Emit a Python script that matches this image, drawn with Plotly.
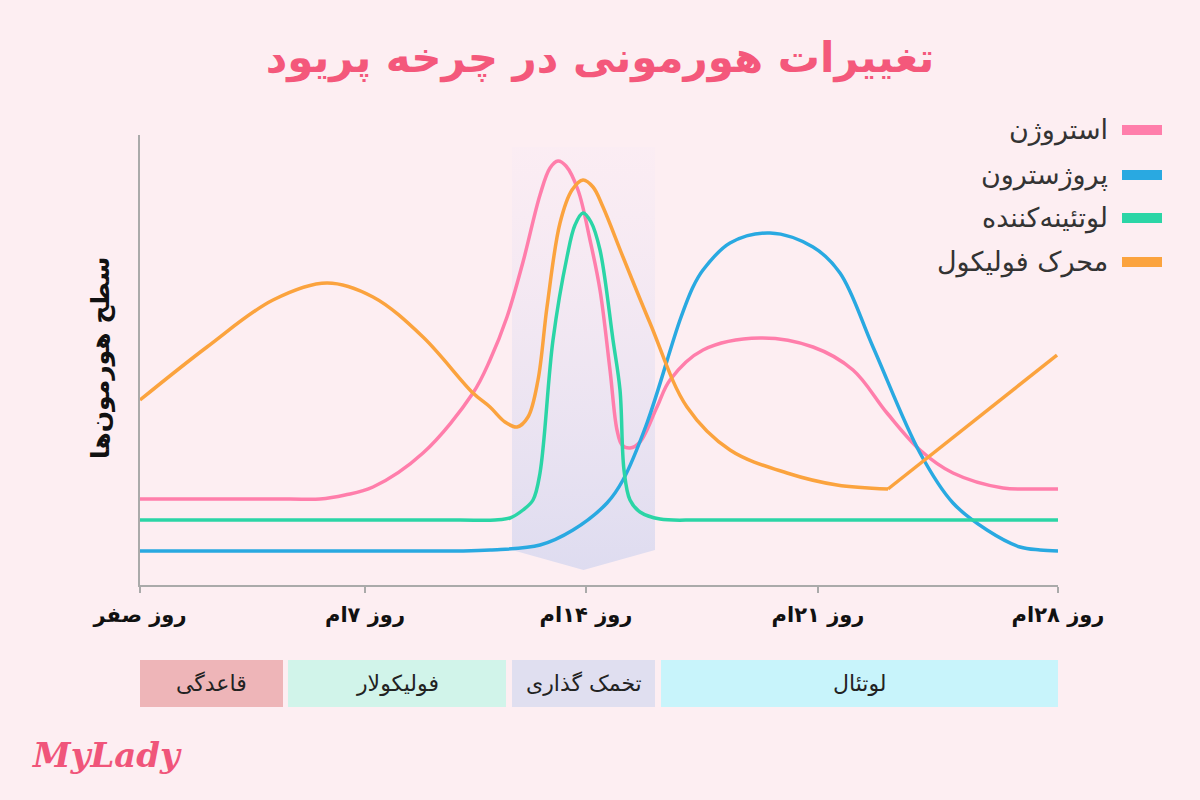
import plotly.graph_objects as go

# ---------------- data (x: position along the cycle axis, y: hormone level) ----------------
estrogen_x = [0, 90, 150, 180, 205, 233, 283, 333, 350, 367, 383, 400, 410, 418, 426, 438, 450, 460, 470, 477, 482, 490, 500, 517, 530, 563, 620, 673, 713, 747, 780, 813, 863, 895, 918]
estrogen_y = [86, 86, 86, 86, 90, 98, 132, 192, 225, 268, 323, 390, 417, 424, 419, 395, 345, 295, 215, 155, 140, 137, 143, 178, 205, 235, 247, 238, 215, 172, 135, 112, 97, 96, 96]

progesterone_x = [0, 150, 250, 320, 350, 400, 433, 467, 483, 507, 540, 553, 563, 590, 630, 673, 700, 733, 780, 813, 847, 880, 900, 918]
progesterone_y = [34, 34, 34, 34, 35, 40, 55, 82, 105, 162, 265, 298, 315, 342, 352, 338, 312, 238, 132, 82, 55, 38, 35, 34]

lh_x = [0, 250, 320, 355, 370, 383, 393, 400, 413, 427, 435, 443, 451, 460, 473, 480, 484, 490, 500, 520, 560, 650, 918]
lh_y = [65, 65, 65, 65, 67, 75, 85, 112, 245, 328, 360, 372, 363, 335, 245, 195, 115, 85, 73, 66, 65, 65, 65]

fsh_x = [0, 67, 133, 187, 233, 283, 333, 350, 365, 377, 388, 398, 407, 420, 432, 443, 453, 463, 483, 510, 547, 590, 647, 697, 748]
fsh_y = [185, 238, 285, 302, 288, 248, 192, 178, 163, 158, 168, 205, 278, 362, 395, 405, 398, 378, 328, 262, 178, 135, 112, 100, 96]
fsh_tail_x = [748, 917]
fsh_tail_y = [96, 230]

hormone_names = ["استروژن", "پروژسترون", "لوتئینه‌کننده", "محرک فولیکول"]
hormone_colors = ["#ff7eab", "#29a9e1", "#2bd5a6", "#fba33e"]

tick_vals = [0, 225, 446, 678, 918]
tick_text = ["روز صفر", "روز ۷ام", "روز ۱۴ام", "روز ۲۱ام", "روز ۲۸ام"]

phase_names = ["قاعدگی", "فولیکولار", "تخمک گذاری", "لوتئال"]
phase_start = [0, 148, 372, 521]
phase_end = [143, 366, 515, 918]
phase_colors = ["#eeb5b8", "#d1f4ea", "#e0dff0", "#c8f4fb"]

ovulation_index = 2
ovulation_top = 438
ovulation_side_bottom = 35
ovulation_tip = 15

# ---------------- layout helpers ----------------
W, H = 1200, 800
L, R, T, B = 140, 1058, 135, 585
X_MAX, Y_MAX = 918, 450


def px2paper_x(px):
    return (px - L) / (R - L)


def py2paper_y(py):
    return (B - py) / (B - T)


BG = "#fdeef2"
FONT = "DejaVu Sans"

fig = go.Figure()

# ovulation window with gradient
ox0 = phase_start[ovulation_index]
ox1 = phase_end[ovulation_index]
omid = (ox0 + ox1) / 2
fig.add_trace(go.Scatter(
    x=[ox0, ox1, ox1, omid, ox0, ox0],
    y=[ovulation_top, ovulation_top, ovulation_side_bottom, ovulation_tip, ovulation_side_bottom, ovulation_top],
    mode="lines", line=dict(width=0), fill="toself",
    fillgradient=dict(type="vertical",
                      colorscale=[[0, "rgba(222,220,240,1)"], [1, "rgba(250,236,244,0.6)"]]),
    hoverinfo="skip", showlegend=False))

line_w = 3.5
series = [
    (estrogen_x, estrogen_y, hormone_colors[0]),
    (progesterone_x, progesterone_y, hormone_colors[1]),
    (lh_x, lh_y, hormone_colors[2]),
    (fsh_x, fsh_y, hormone_colors[3]),
]
for i, (xs, ys, col) in enumerate(series):
    fig.add_trace(go.Scatter(x=xs, y=ys, mode="lines", name=hormone_names[i],
                             line=dict(color=col, width=line_w, shape="spline", smoothing=1.0),
                             showlegend=False))
fig.add_trace(go.Scatter(x=fsh_tail_x, y=fsh_tail_y, mode="lines",
                         line=dict(color=hormone_colors[3], width=line_w),
                         showlegend=False))

shapes = []
annotations = []

# phase boxes
box_top = py2paper_y(660)
box_bot = py2paper_y(707)
for name, s, e, c in zip(phase_names, phase_start, phase_end, phase_colors):
    shapes.append(dict(type="rect", xref="x", yref="paper", x0=s, x1=e, y0=box_bot, y1=box_top,
                       fillcolor=c, line=dict(width=0), layer="below"))
    annotations.append(dict(xref="x", yref="paper", x=(s + e) / 2, y=(box_top + box_bot) / 2,
                            text=name, showarrow=False, xanchor="center", yanchor="middle",
                            font=dict(family=FONT, size=22, color="#222")))

# manual RTL legend
legend_rows = [130, 175, 218, 262]
for name, col, ry in zip(hormone_names, hormone_colors, legend_rows):
    shapes.append(dict(type="rect", xref="paper", yref="paper",
                       x0=px2paper_x(1122), x1=px2paper_x(1162),
                       y0=py2paper_y(ry + 5), y1=py2paper_y(ry - 5),
                       fillcolor=col, line=dict(width=0)))
    annotations.append(dict(xref="paper", yref="paper", x=px2paper_x(1110), y=py2paper_y(ry),
                            text=name, showarrow=False, xanchor="right", yanchor="middle",
                            font=dict(family=FONT, size=27, color="#333")))

# y axis title
annotations.append(dict(xref="paper", yref="paper", x=px2paper_x(101), y=py2paper_y(358),
                        text="سطح هورمون‌ها", textangle=-90, showarrow=False,
                        xanchor="center", yanchor="middle",
                        font=dict(family=FONT, size=25, color="#111", weight="bold")))

# logo
annotations.append(dict(xref="paper", yref="paper", x=px2paper_x(30), y=py2paper_y(755),
                        text="<i>MyLady</i>", showarrow=False, xanchor="left", yanchor="middle",
                        font=dict(family="DejaVu Serif", size=34, color="#f0557a", weight="bold")))

fig.update_layout(
    width=W, height=H,
    margin=dict(l=L, r=W - R, t=T, b=H - B, pad=0),
    paper_bgcolor=BG, plot_bgcolor=BG,
    title=dict(text="تغییرات هورمونی در چرخه پریود", x=0.5, xref="container", xanchor="center",
               y=1 - 57 / H, yref="container", yanchor="middle",
               font=dict(family=FONT, size=42, color="#f4587b", weight="bold")),
    xaxis=dict(range=[0, X_MAX], showgrid=False, zeroline=False, showline=True,
               linecolor="#aaaaaa", linewidth=2, tickmode="array", tickvals=tick_vals,
               ticktext=tick_text, ticks="outside", ticklen=6, tickwidth=2, tickcolor="#aaaaaa",
               tickfont=dict(family=FONT, size=21, color="#111", weight="bold"),
               ticklabelstandoff=4, fixedrange=True),
    yaxis=dict(range=[0, Y_MAX], showgrid=False, zeroline=False, showline=True,
               linecolor="#aaaaaa", linewidth=2, showticklabels=False, ticks="", fixedrange=True),
    shapes=shapes, annotations=annotations, showlegend=False,
)

fig.write_html("out.html", config={"displayModeBar": False},
               post_script="document.body.style.margin='0';document.body.style.background='" + BG + "';")
